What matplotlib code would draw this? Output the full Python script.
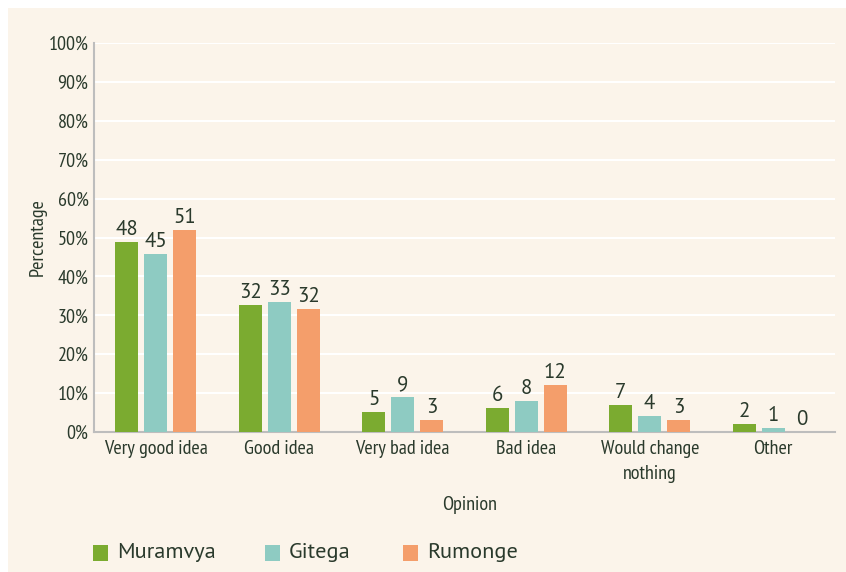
import numpy as np
import matplotlib
matplotlib.use("Agg")
import matplotlib.pyplot as plt
from matplotlib.patches import Rectangle

# data
categories = ["Very good idea", "Good idea", "Very bad idea", "Bad idea",
              "Would change\nnothing", "Other"]
districts = ["Muramvya", "Gitega", "Rumonge"]
muramvya = [48.8, 32.6, 5.1, 6.1, 6.9, 2.1]
gitega = [45.8, 33.4, 9.0, 8.0, 4.0, 1.0]
rumonge = [51.9, 31.5, 3.0, 12.0, 3.0, 0.0]
muramvya_lbl = [48, 32, 5, 6, 7, 2]
gitega_lbl = [45, 33, 9, 8, 4, 1]
rumonge_lbl = [51, 32, 3, 12, 3, 0]

colors = ["#7BAB30", "#8ECBC2", "#F49E6B"]
text_col = "#2A3A2C"
bg = "#FBF4EA"
narrow = ["PT Sans Narrow", "DejaVu Sans"]
regular = ["PT Sans", "DejaVu Sans"]

fig = plt.figure(figsize=(8.46, 5.72), dpi=100)
fig.patches.append(Rectangle((8 / 846, 0), 1, 1 - 8 / 572, transform=fig.transFigure,
                             facecolor=bg, edgecolor="none", zorder=-10))
ax = fig.add_axes([94 / 846, 1 - 432 / 572, (835 - 94) / 846, (432 - 43) / 572])
ax.set_facecolor(bg)

x = np.arange(len(categories))
width = 0.186
step = 0.235
series = [(muramvya, muramvya_lbl), (gitega, gitega_lbl), (rumonge, rumonge_lbl)]
for i, (vals, lbls) in enumerate(series):
    pos = x + (i - 1) * step
    bars = ax.bar(pos, vals, width, color=colors[i], label=districts[i], zorder=3)
    for b, v, l in zip(bars, vals, lbls):
        ax.text(b.get_x() + b.get_width() / 2, v + 0.8, str(l), ha="center", va="bottom",
                fontsize=15, color=text_col, family=regular)

ax.set_xlim(-0.5, len(categories) - 0.5)
ax.set_ylim(0, 100)
ax.set_yticks(range(0, 101, 10))
ax.set_yticklabels([f"{t}%" for t in range(0, 101, 10)], family=narrow, fontsize=14.5, color=text_col)
ax.set_xticks(x)
ax.set_xticklabels(categories, family=narrow, fontsize=14.5, color=text_col, linespacing=1.45)
ax.tick_params(axis="y", length=0, pad=4)
ax.tick_params(axis="x", length=0, pad=6)
ax.grid(axis="y", color="white", linewidth=1.5, zorder=0)
for s in ["top", "right"]:
    ax.spines[s].set_visible(False)
for s in ["left", "bottom"]:
    ax.spines[s].set_color("#BDBDBD")
    ax.spines[s].set_linewidth(1.5)

fig.text(38 / 846, 1 - 237 / 572, "Percentage", rotation=90, ha="center", va="center",
         family=narrow, fontsize=14.5, color=text_col)
fig.text(470 / 846, 1 - 505 / 572, "Opinion", ha="center", va="center",
         family=narrow, fontsize=14.5, color=text_col)

# legend drawn by hand along the bottom
leg_x = [93, 265, 403]
for i, name in enumerate(districts):
    fig.patches.append(Rectangle((leg_x[i] / 846, 1 - 561 / 572), 15 / 846, 16 / 572,
                                 transform=fig.transFigure, facecolor=colors[i], edgecolor="none"))
    fig.text((leg_x[i] + 24) / 846, 1 - 553 / 572, name, ha="left", va="center",
             family=regular, fontsize=16, color=text_col)

fig.savefig("out.png", dpi=100, facecolor="white")
